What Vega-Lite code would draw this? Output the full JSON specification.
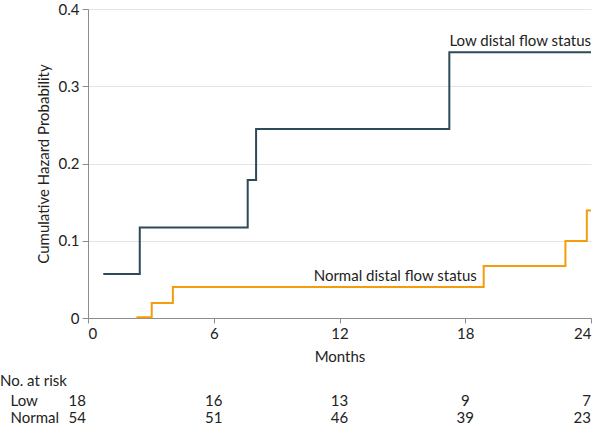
{
  "$schema": "https://vega.github.io/schema/vega-lite/v6.json",
  "padding": {"left": 0, "top": 2, "right": 6, "bottom": 0},
  "background": "white",
  "config": {
    "font": "Lato",
    "view": {"stroke": null},
    "axis": {
      "labelFont": "Lato",
      "titleFont": "Lato",
      "labelFontSize": 15,
      "titleFontSize": 15,
      "titleFontWeight": "normal",
      "labelColor": "#222",
      "titleColor": "#222",
      "domainColor": "#8c8c8c",
      "tickColor": "#8c8c8c",
      "gridColor": "#e4e4e4"
    },
    "title": {"font": "Lato", "fontSize": 15, "fontWeight": "normal", "color": "#222"}
  },
  "datasets": {
    "curves": [
      {"group": "Low", "month": 0.73, "hazard": 0.057},
      {"group": "Low", "month": 2.47, "hazard": 0.117},
      {"group": "Low", "month": 7.62, "hazard": 0.1785},
      {"group": "Low", "month": 8.02, "hazard": 0.2445},
      {"group": "Low", "month": 17.24, "hazard": 0.344},
      {"group": "Low", "month": 24, "hazard": 0.344},
      {"group": "Normal", "month": 2.31, "hazard": 0.001},
      {"group": "Normal", "month": 3.04, "hazard": 0.0193},
      {"group": "Normal", "month": 4.05, "hazard": 0.04},
      {"group": "Normal", "month": 18.88, "hazard": 0.0674},
      {"group": "Normal", "month": 22.78, "hazard": 0.0996},
      {"group": "Normal", "month": 23.8, "hazard": 0.139},
      {"group": "Normal", "month": 24, "hazard": 0.139}
    ],
    "labels": [
      {"group": "Low", "month": 24, "hazard": 0.344, "text": "Low distal flow status"},
      {"group": "Normal", "month": 18.55, "hazard": 0.04, "text": "Normal distal flow status"}
    ],
    "risk": [
      {"row": "Low", "month": 0, "n": 18},
      {"row": "Low", "month": 6, "n": 16},
      {"row": "Low", "month": 12, "n": 13},
      {"row": "Low", "month": 18, "n": 9},
      {"row": "Low", "month": 24, "n": 7},
      {"row": "Normal", "month": 0, "n": 54},
      {"row": "Normal", "month": 6, "n": 51},
      {"row": "Normal", "month": 12, "n": 46},
      {"row": "Normal", "month": 18, "n": 39},
      {"row": "Normal", "month": 24, "n": 23}
    ]
  },
  "spacing": 10,
  "vconcat": [
    {
      "width": 503,
      "height": 309,
      "layer": [
        {
          "data": {"name": "curves"},
          "mark": {"type": "line", "interpolate": "step-after", "strokeWidth": 2},
          "encoding": {
            "x": {
              "field": "month", "type": "quantitative",
              "scale": {"domain": [0, 24], "nice": false},
              "axis": {"values": [0, 6, 12, 18, 24], "grid": false, "tickSize": 5, "labelPadding": 3, "title": "Months", "titlePadding": 8}
            },
            "y": {
              "field": "hazard", "type": "quantitative",
              "scale": {"domain": [0, 0.4], "nice": false},
              "axis": {
                "values": [0, 0.1, 0.2, 0.3, 0.4], "tickSize": 6, "labelPadding": 3,
                "labelExpr": "datum.value == 0 ? '0' : format(datum.value, '.1f')",
                "title": "Cumulative Hazard Probability", "titlePadding": 7
              }
            },
            "color": {
              "field": "group", "type": "nominal",
              "scale": {"domain": ["Low", "Normal"], "range": ["#2d4a58", "#f59c0c"]},
              "legend": null
            }
          }
        },
        {
          "data": {"name": "labels"},
          "mark": {"type": "text", "align": "right", "baseline": "bottom", "dy": -3, "fontSize": 15, "color": "#222"},
          "encoding": {
            "x": {"field": "month", "type": "quantitative"},
            "y": {"field": "hazard", "type": "quantitative"},
            "text": {"field": "text"}
          }
        }
      ]
    },
    {
      "width": 503,
      "height": 34,
      "title": {"text": "No. at risk", "anchor": "start", "frame": "bounds", "dx": -10, "offset": 3},
      "data": {"name": "risk"},
      "encoding": {
        "x": {"field": "month", "type": "quantitative", "scale": {"domain": [0, 24], "nice": false}, "axis": null},
        "y": {
          "field": "row", "type": "nominal",
          "scale": {"domain": ["Low", "Normal"], "paddingInner": 0, "paddingOuter": 0},
          "axis": {"domain": false, "ticks": false, "labelAlign": "left", "labelPadding": 78, "title": null, "labelFontSize": 15}
        },
        "text": {"field": "n", "type": "quantitative"}
      },
      "layer": [
        {
          "transform": [{"filter": "datum.month == 0"}],
          "mark": {"type": "text", "align": "right", "dx": -2, "fontSize": 15, "color": "#222"}
        },
        {
          "transform": [{"filter": "datum.month > 0 && datum.month < 24"}],
          "mark": {"type": "text", "align": "center", "fontSize": 15, "color": "#222"}
        },
        {
          "transform": [{"filter": "datum.month == 24"}],
          "mark": {"type": "text", "align": "right", "fontSize": 15, "color": "#222"}
        }
      ]
    }
  ]
}
